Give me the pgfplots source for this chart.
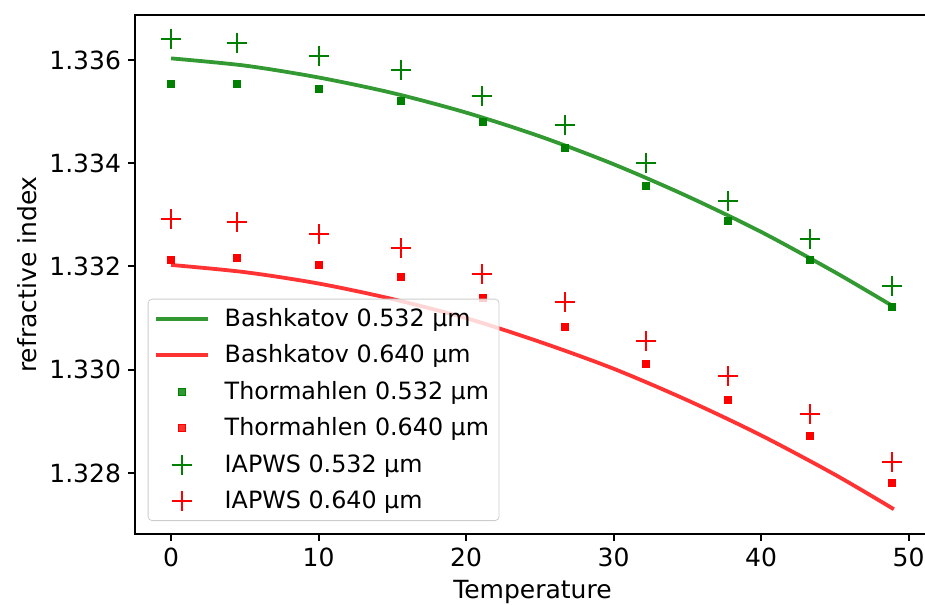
\documentclass[border=0pt]{standalone}
\usepackage{fontspec}
\setmainfont{DejaVu Sans}
\usepackage{pgfplots}
\pgfplotsset{compat=1.18}
\definecolor{mgreen}{rgb}{0,0.5,0}
\definecolor{mred}{rgb}{1,0,0}
\begin{document}
\begin{tikzpicture}[font=\fontsize{12.5}{15}\selectfont]
\begin{axis}[
  scale only axis, width=397.5pt, height=259.5pt,
  xmin=-2.45, xmax=51.45, ymin=1.32682, ymax=1.33687,
  xtick={0,10,20,30,40,50},
  ytick={1.328,1.330,1.332,1.334,1.336},
  /pgf/number format/assume math mode=true,
  yticklabel style={/pgf/number format/.cd, fixed, fixed zerofill, precision=3},
  xtick pos=bottom, ytick pos=left,
  tick align=outside, major tick length=3.5pt,
  tick style={line width=1pt, black},
  axis line style={line width=1pt, black},
  xlabel={Temperature}, ylabel={refractive index},
  xlabel style={at={(axis description cs:0.5,0)}, anchor=north, inner sep=0pt, yshift=-23pt},
  ylabel style={at={(axis description cs:-0.136,0.5)}, anchor=center, inner sep=0pt},
  legend cell align=left,
  legend style={at={(axis description cs:0.016,0.025)}, anchor=south west,
    draw=black!20, rounded corners=2pt, fill=white, fill opacity=0.8, text opacity=1,
    inner xsep=3pt, inner ysep=2.5pt, row sep=3.75pt, column sep=5.6pt,
    font=\fontsize{11.9}{14}\selectfont,
    nodes={inner xsep=2pt, inner ysep=0pt, text height=11pt, text depth=3.5pt}},
  line image/.style={legend image code/.code={\draw[##1, mark=none] (0pt,0pt) -- (25.8pt,0pt);}},
  mark image/.style={legend image code/.code={\draw[##1] plot coordinates {(12.9pt,0pt)};}},
]
\addplot[mgreen, opacity=0.8, line width=1.9pt, smooth, line image] coordinates {
(0,1.33603) (5,1.33589) (10,1.33566) (15,1.33536) (20,1.33498) (25,1.33452)
(30,1.33398) (35,1.33336) (40,1.33267) (45,1.33189) (49,1.33122)};
\addlegendentry{Bashkatov 0.532 µm}
\addplot[mred, opacity=0.8, line width=1.9pt, smooth, line image] coordinates {
(0,1.33203) (5,1.33189) (10,1.33167) (15,1.33137) (20,1.33100) (25,1.33054)
(30,1.33002) (35,1.32941) (40,1.32873) (45,1.32797) (49,1.32730)};
\addlegendentry{Bashkatov 0.640 µm}
\addplot[only marks, mark=square*, mark size=1.75pt, mgreen, mark options={draw=none, fill=mgreen}, mark image] coordinates {
(0,1.33554) (4.44,1.33554) (10,1.33544) (15.56,1.33521) (21.11,1.33480)
(26.67,1.33429) (32.22,1.33356) (37.78,1.33289) (43.33,1.33213) (48.89,1.33121)};
\addlegendentry{Thormahlen 0.532 µm}
\addplot[only marks, mark=square*, mark size=1.75pt, mred, mark options={draw=none, fill=mred}, mark image] coordinates {
(0,1.33213) (4.44,1.33217) (10,1.33203) (15.56,1.33180) (21.11,1.33139)
(26.67,1.33083) (32.22,1.33011) (37.78,1.32941) (43.33,1.32872) (48.89,1.32780)};
\addlegendentry{Thormahlen 0.640 µm}
\addplot[only marks, mark=+, mark size=5pt, mgreen, mark options={line width=1pt}, mark image] coordinates {
(0,1.33641) (4.44,1.33632) (10,1.33608) (15.56,1.33581) (21.11,1.33530)
(26.67,1.33474) (32.22,1.33401) (37.78,1.33327) (43.33,1.33254) (48.89,1.33162)};
\addlegendentry{IAPWS 0.532 µm}
\addplot[only marks, mark=+, mark size=5pt, mred, mark options={line width=1pt}, mark image] coordinates {
(0,1.33291) (4.44,1.33287) (10,1.33262) (15.56,1.33235) (21.11,1.33185)
(26.67,1.33131) (32.22,1.33056) (37.78,1.32988) (43.33,1.32914) (48.89,1.32821)};
\addlegendentry{IAPWS 0.640 µm}
\end{axis}
\pgfresetboundingbox
\path[use as bounding box] ([xshift=-67.5pt,yshift=-35.5pt]current axis.south west) rectangle ([xshift=-2.5pt,yshift=7.5pt]current axis.north east);
\end{tikzpicture}
\end{document}
